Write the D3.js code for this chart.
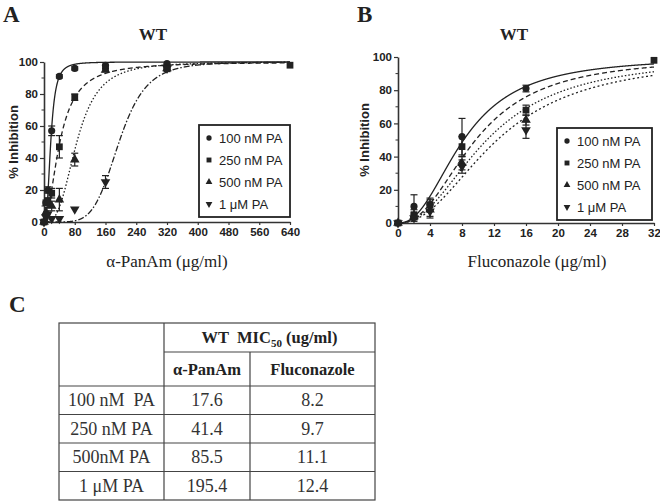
<!DOCTYPE html>
<html><head><meta charset="utf-8">
<script src="https://cdn.jsdelivr.net/npm/d3@7"></script>
<style>body{margin:0;background:#fff}svg{display:block}text{white-space:pre}</style>
</head><body>
<svg id="chart" width="660" height="502"></svg>
<script>
// ---------- DATA ----------
const seriesNames = ["100 nM PA", "250 nM PA", "500 nM PA", "1 \u03bcM PA"];

const concA = [0, 5, 10, 20, 40, 80, 160, 320, 640];
const panAm100 = [0, 12, 20, 57, 91, 96, 98, 99, null];
const panAm250 = [0, 12, 13, 18, 47, 78, 96, 97, 98];
const panAm500 = [0, 6, 12, 10, 14, 39, 95, 96, null];
const panAm1uM = [0, 3, 5, 2, 2, 8, 25, 96, null];
const panAmErr100 = [0, 0, 2, 3, 1, 1, 0, 0, 0];
const panAmErr250 = [0, 0, 2, 3, 7, 2, 2, 1, 0];
const panAmErr500 = [0, 0, 3, 3, 7, 4, 1, 1, 0];
const panAmErr1uM = [0, 0, 0, 0, 0, 0, 4, 2, 0];

const concB = [0, 2, 4, 8, 16, 32];
const fluc100 = [0, 10, 11, 52, 81, null];
const fluc250 = [0, 5, 11, 46, 68, 98];
const fluc500 = [0, 4, 8, 36, 62, null];
const fluc1uM = [0, 3, 7, 34, 56, null];
const flucErr100 = [0, 7, 3, 11, 2, 0];
const flucErr250 = [0, 3, 4, 6, 3, 0];
const flucErr500 = [0, 2, 4, 4, 3, 0];
const flucErr1uM = [0, 2, 4, 4, 5, 0];

// MIC50 values (table C), also the midpoints of the fitted curves
const micPanAm = [17.6, 41.4, 85.5, 195.4];
const micFluc = [8.2, 9.7, 11.1, 12.4];
const hillPanAm = [2.8, 1.9, 3.0, 5.5];
const hillFluc = [2.3, 2.3, 2.2, 2.2];

const ticksA_x = [0, 80, 160, 240, 320, 400, 480, 560, 640];
const ticksB_x = [0, 4, 8, 12, 16, 20, 24, 28, 32];
const ticksY = [0, 20, 40, 60, 80, 100];

const tableRowLabels = ["100 nM  PA", "250 nM PA", "500nM PA", "1 \u03bcM PA"];
const tableColLabels = ["\u03b1-PanAm", "Fluconazole"];

// ---------- DRAW ----------
const svg = d3.select("#chart");
const ink = "#222";
const sans = "'Liberation Sans', Arial, sans-serif";
const serif = "'Liberation Serif', 'Times New Roman', serif";

const symbols = [
  d3.symbol().type(d3.symbolCircle).size(40),
  d3.symbol().type(d3.symbolSquare).size(46),
  d3.symbol().type(d3.symbolTriangle).size(40),
  d3.symbol().type(d3.symbolTriangle).size(40)
];
const symRot = [0, 0, 0, 180];
const legSymbols = [
  d3.symbol().type(d3.symbolCircle).size(22),
  d3.symbol().type(d3.symbolSquare).size(24),
  d3.symbol().type(d3.symbolTriangle).size(20),
  d3.symbol().type(d3.symbolTriangle).size(20)
];
const dashA = [null, "5,3", "1.5,2", "6,2,1.5,2"];
const dashB = [null, "5,3", "1.5,2", "2,2.5"];

function hill(x, ic, h) { return x <= 0 ? 0 : 100 * Math.pow(x, h) / (Math.pow(x, h) + Math.pow(ic, h)); }

function panel(opt) {
  const g = svg.append("g");
  const x = opt.x, y = opt.y;
  const [x0, x1] = x.range(), [y0, y1] = y.range();
  svg.append("text").attr("x", opt.letterX).attr("y", 22).attr("font-family", serif)
    .attr("font-weight", "bold").attr("font-size", 23).attr("fill", ink).text(opt.letter);
  svg.append("text").attr("x", opt.titleX).attr("y", 40).attr("text-anchor", "middle")
    .attr("font-family", serif).attr("font-weight", "bold").attr("font-size", 17).attr("fill", ink).text("WT");

  const xAxis = d3.axisBottom(x).tickValues(opt.xticks).tickSize(3).tickPadding(3).tickSizeOuter(0);
  const yAxis = d3.axisLeft(y).tickValues(ticksY).tickSize(4).tickPadding(2).tickSizeOuter(0);
  const gx = g.append("g").attr("transform", `translate(0,${y0})`).call(xAxis);
  const gy = g.append("g").attr("transform", `translate(${x0},0)`).call(yAxis);
  g.append("g").selectAll("line").data([10, 30, 50, 70, 90]).join("line")
    .attr("x1", x0 - 2.5).attr("x2", x0).attr("y1", d => y(d)).attr("y2", d => y(d))
    .attr("stroke", "#333").attr("stroke-width", 1);
  [gx, gy].forEach(a => {
    a.select(".domain").attr("stroke", "#333").attr("stroke-width", 1.6);
    a.selectAll(".tick line").attr("stroke", "#333").attr("stroke-width", 1.2);
    a.selectAll("text").attr("font-family", sans).attr("font-weight", "bold")
      .attr("font-size", 11.5).attr("fill", ink);
  });
  svg.append("text").attr("transform", `translate(${opt.yLabelX},${(y0 + y1) / 2}) rotate(-90)`)
    .attr("text-anchor", "middle").attr("font-family", sans).attr("font-weight", "bold")
    .attr("font-size", 13).attr("fill", ink).text("% Inhibition");
  svg.append("text").attr("x", opt.xLabelX).attr("y", 267).attr("text-anchor", "middle")
    .attr("font-family", serif).attr("font-size", 17).attr("fill", ink).text(opt.xLabel);

  const dom = x.domain();
  const xs = d3.range(0, 2001).map(i => dom[0] + (dom[1] - dom[0]) * i / 2000);
  const line = d3.line().x(d => x(d[0])).y(d => y(d[1]));
  opt.mic.forEach((ic, i) => {
    g.append("path").datum(xs.map(v => [v, hill(v, ic, opt.hill[i])]))
      .attr("d", line).attr("fill", "none").attr("stroke", ink).attr("stroke-width", 1.3)
      .attr("stroke-dasharray", opt.dash[i]);
  });

  opt.vals.forEach((vals, i) => {
    const pts = opt.conc.map((c, j) => ({ c, v: vals[j], e: opt.errs[i][j] })).filter(p => p.v != null);
    const eb = g.append("g").attr("stroke", ink).attr("stroke-width", 1.2);
    pts.filter(p => p.e > 0).forEach(p => {
      const px = x(p.c);
      eb.append("line").attr("x1", px).attr("x2", px).attr("y1", y(p.v - p.e)).attr("y2", y(p.v + p.e));
      eb.append("line").attr("x1", px - 3.5).attr("x2", px + 3.5).attr("y1", y(p.v - p.e)).attr("y2", y(p.v - p.e));
      eb.append("line").attr("x1", px - 3.5).attr("x2", px + 3.5).attr("y1", y(p.v + p.e)).attr("y2", y(p.v + p.e));
    });
    g.append("g").selectAll("path").data(pts).join("path")
      .attr("d", symbols[i]).attr("fill", ink)
      .attr("transform", p => `translate(${x(p.c)},${y(p.v)}) rotate(${symRot[i]})`);
  });

  const L = opt.legend;
  const lg = svg.append("g");
  lg.append("rect").attr("x", L.x).attr("y", L.y).attr("width", L.w).attr("height", L.h)
    .attr("fill", "#fff").attr("stroke", ink).attr("stroke-width", 1.8);
  seriesNames.forEach((name, i) => {
    const cy = L.y + 13 + i * 22;
    lg.append("path").attr("d", legSymbols[i]).attr("fill", ink)
      .attr("transform", `translate(${L.x + 10},${cy}) rotate(${symRot[i]})`);
    lg.append("text").attr("x", L.x + 20).attr("y", cy + 4.5).attr("font-family", sans)
      .attr("font-size", 13).attr("fill", ink).text(name);
  });
}

panel({
  letter: "A", letterX: 3, titleX: 153,
  x: d3.scaleLinear().domain([0, 640]).range([44, 290]),
  y: d3.scaleLinear().domain([0, 100]).range([222, 62]),
  xticks: ticksA_x, yLabelX: 18, xLabelX: 167, xLabel: "\u03b1-PanAm (\u03bcg/ml)",
  conc: concA, vals: [panAm100, panAm250, panAm500, panAm1uM],
  errs: [panAmErr100, panAmErr250, panAmErr500, panAmErr1uM],
  mic: micPanAm, hill: hillPanAm, dash: dashA,
  legend: { x: 199, y: 125, w: 91, h: 92 }
});
panel({
  letter: "B", letterX: 357, titleX: 514,
  x: d3.scaleLinear().domain([0, 32]).range([398, 654]),
  y: d3.scaleLinear().domain([0, 100]).range([223, 57]),
  xticks: ticksB_x, yLabelX: 369, xLabelX: 537, xLabel: "Fluconazole (\u03bcg/ml)",
  conc: concB, vals: [fluc100, fluc250, fluc500, fluc1uM],
  errs: [flucErr100, flucErr250, flucErr500, flucErr1uM],
  mic: micFluc, hill: hillFluc, dash: dashB,
  legend: { x: 557, y: 128, w: 95, h: 92 }
});

// ---------- TABLE C ----------
svg.append("text").attr("x", 9).attr("y", 312).attr("font-family", serif)
  .attr("font-weight", "bold").attr("font-size", 23).attr("fill", ink).text("C");

const tL = 59, tR = 375, c1 = 164, c2 = 250;
const hTop = 323, hMid = 352, hBot = 386, tBot = 500;
const rowY = d3.scaleBand().domain(tableRowLabels).range([hBot, tBot]);
const colCenters = [(tL + c1) / 2, (c1 + c2) / 2, (c2 + tR) / 2];
const tg = svg.append("g").attr("stroke", "#444").attr("stroke-width", 1.2);
tg.append("rect").attr("x", tL).attr("y", hTop).attr("width", tR - tL).attr("height", tBot - hTop).attr("fill", "none");
tg.append("line").attr("x1", c1).attr("x2", c1).attr("y1", hTop).attr("y2", tBot);
tg.append("line").attr("x1", c2).attr("x2", c2).attr("y1", hMid).attr("y2", tBot);
tg.append("line").attr("x1", c1).attr("x2", tR).attr("y1", hMid).attr("y2", hMid);
tg.append("line").attr("x1", tL).attr("x2", tR).attr("y1", hBot).attr("y2", hBot);
tableRowLabels.forEach(r => {
  const yb = rowY(r) + rowY.bandwidth();
  if (yb < tBot - 1) tg.append("line").attr("x1", tL).attr("x2", tR).attr("y1", yb).attr("y2", yb);
});

const h1 = svg.append("text").attr("x", (c1 + tR) / 2).attr("y", 343).attr("text-anchor", "middle")
  .attr("font-family", serif).attr("font-weight", "bold").attr("font-size", 16.5).attr("fill", ink);
h1.append("tspan").text("WT  MIC");
h1.append("tspan").attr("font-size", 11).attr("dy", 4).text("50");
h1.append("tspan").attr("dy", -4).text(" (ug/ml)");
tableColLabels.forEach((c, i) => {
  svg.append("text").attr("x", colCenters[i + 1]).attr("y", 375).attr("text-anchor", "middle")
    .attr("font-family", serif).attr("font-weight", "bold").attr("font-size", 16.5).attr("fill", ink).text(c);
});
tableRowLabels.forEach((r, i) => {
  const cy = rowY(r) + rowY.bandwidth() / 2 + 6;
  [r, micPanAm[i].toFixed(1), micFluc[i].toFixed(1)].forEach((t, k) => {
    svg.append("text").attr("x", colCenters[k]).attr("y", cy).attr("text-anchor", "middle")
      .attr("font-family", serif).attr("font-size", 18).attr("fill", "#333").text(t);
  });
});
</script>
</body></html>
